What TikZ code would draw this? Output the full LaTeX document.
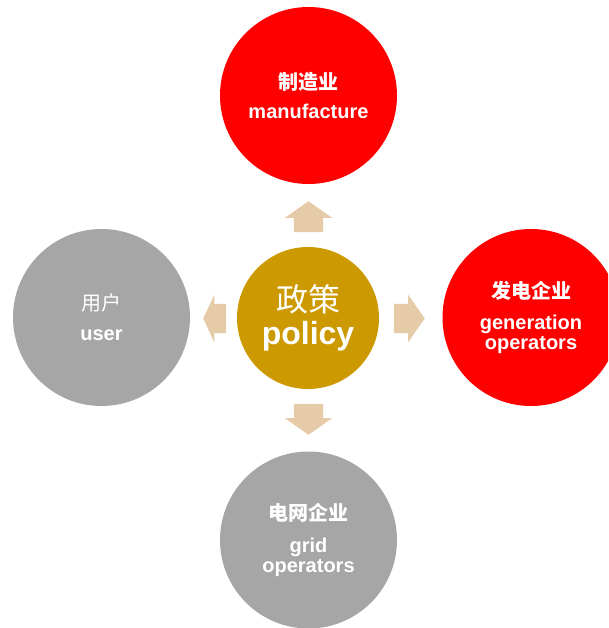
\documentclass[tikz,border=0pt]{standalone}
\usepackage{fontspec}
\setmainfont{Liberation Sans}
\newfontfamily\cjk{Noto Sans CJK SC}
\usetikzlibrary{shapes.arrows}

\definecolor{policygold}{HTML}{CC9900}
\definecolor{sectorred}{HTML}{FF0000}
\definecolor{sectorgray}{HTML}{A6A6A6}
\definecolor{arrowtan}{HTML}{E6CBA9}

\tikzset{
	sector/.style={circle, inner sep=0pt, minimum size=177pt, text=white, align=center,
		font=\bfseries\fontsize{20}{20}\selectfont},
	push/.style={single arrow, fill=arrowtan, inner xsep=0pt, inner ysep=14.5pt, minimum height=31pt,
		single arrow head extend=9pt, single arrow tip angle=110, anchor=tip},
}

\begin{document}
\begin{tikzpicture}[x=1pt, y=-1pt]
		\clip (0,0) rectangle (608,628);
		
		% policy in the middle
		\node[circle, inner sep=0pt, minimum size=142pt, fill=policygold, text=white, align=center]
			(policy) at (308,318) {{\cjk\fontsize{32}{32}\selectfont 政策}\\[6pt]{\bfseries\fontsize{32}{32}\selectfont policy}};
		
		% the four sectors
		\node[sector, fill=sectorred] (manufacture) at (308.5,95.5) {{\cjk 制造业}\\[9pt]manufacture};
		\node[sector, fill=sectorred] (generation) at (531,317.5) {{\cjk 发电企业}\\[11pt]generation\\operators};
		\node[sector, fill=sectorgray] (user) at (101.5,317.5) {{\cjk\mdseries 用户}\\[10pt]user};
		\node[sector, fill=sectorgray] (grid) at (308.5,540) {{\cjk 电网企业}\\[12pt]grid\\operators};
		
		% arrows, placed by their tips
		\node[push, rotate=90] (toup) at (308.5,201) {};
		\node[push] (toright) at (425,318.5) {};
		\node[push, rotate=180, minimum height=23pt, single arrow tip angle=130] (toleft) at (203,318.5) {};
		\node[push, rotate=-90] (todown) at (308.5,435) {};
		
	\end{tikzpicture}
\end{document}
